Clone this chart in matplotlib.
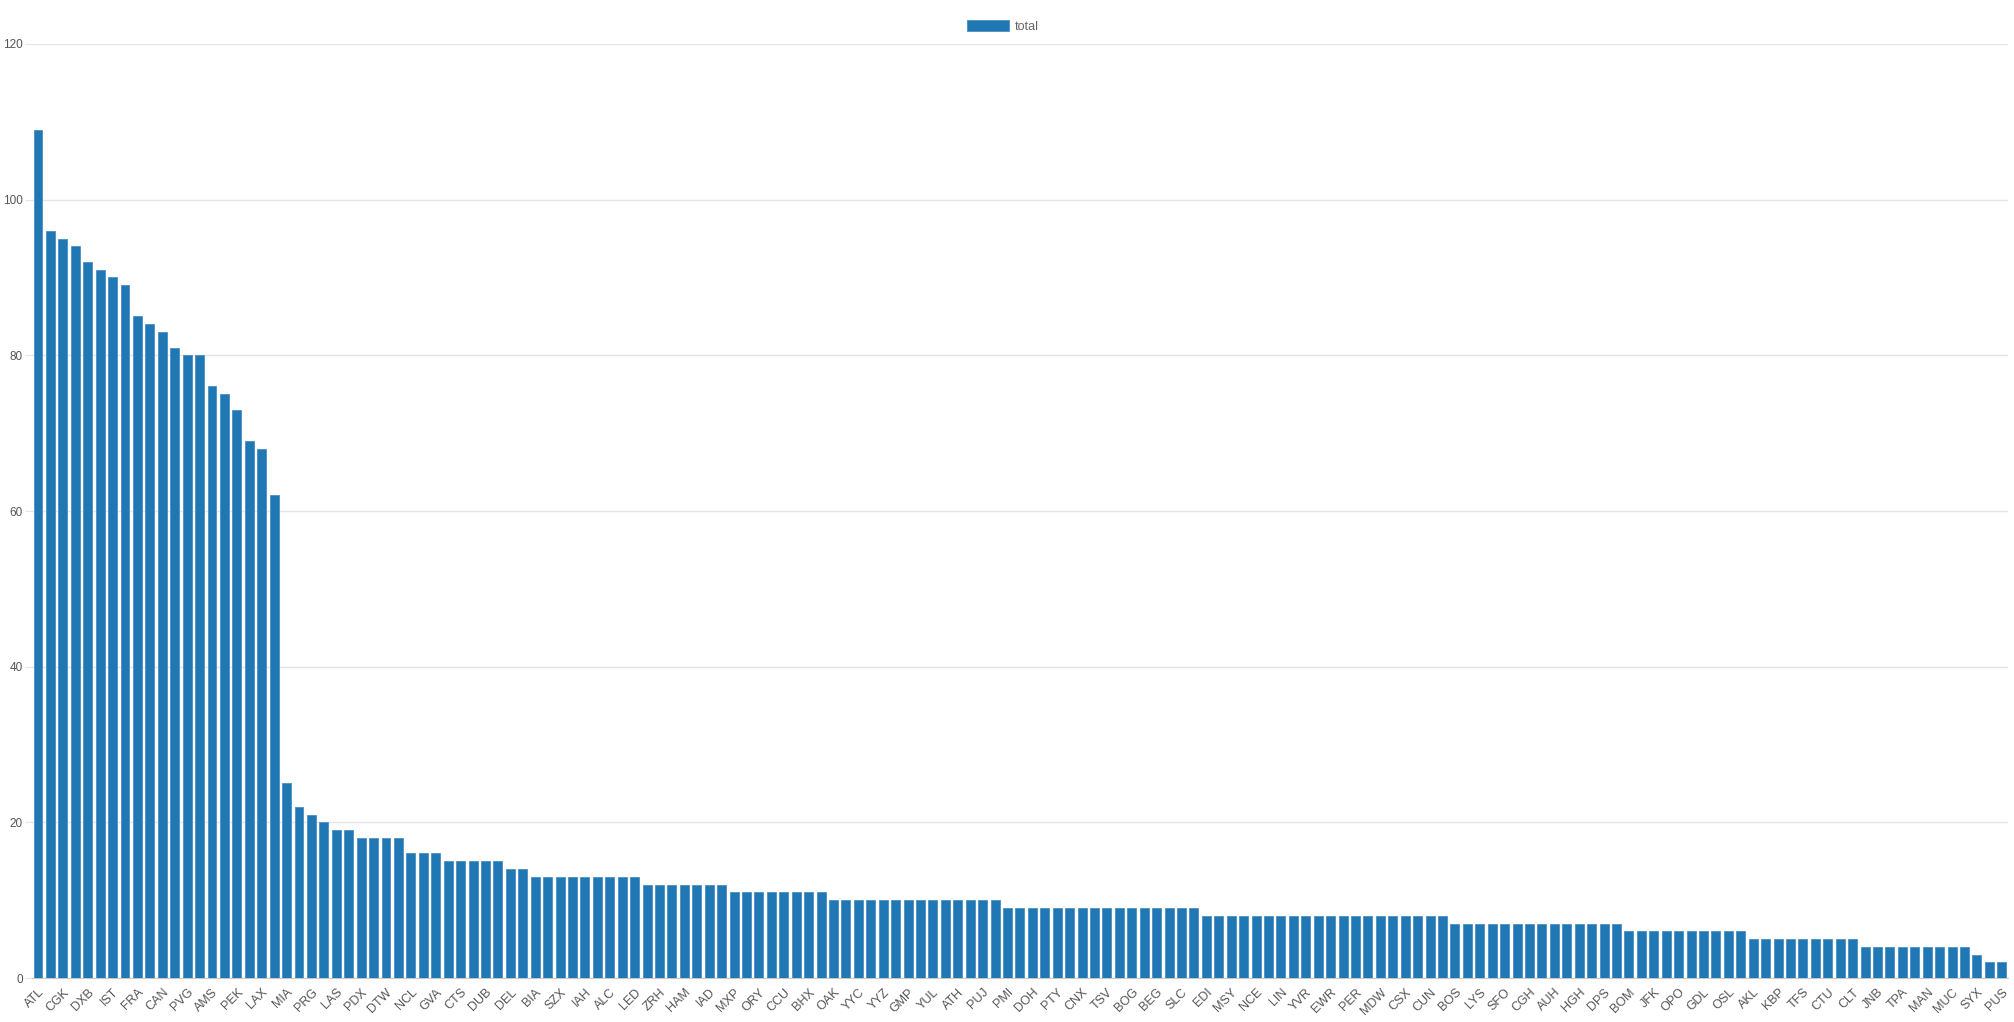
import matplotlib
matplotlib.use("Agg")
import matplotlib.pyplot as plt

# airport codes shown on the x axis (every other bar is labelled)
shown_labels = ["ATL", "CGK", "DXB", "IST", "FRA", "CAN", "PVG", "AMS", "PEK", "LAX",
                "MIA", "PRG", "LAS", "PDX", "DTW", "NCL", "GVA", "CTS", "DUB", "DEL",
                "BIA", "SZX", "IAH", "ALC", "LED", "ZRH", "HAM", "IAD", "MXP", "ORY",
                "CCU", "BHX", "OAK", "YYC", "YYZ", "GMP", "YUL", "ATH", "PUJ", "PMI",
                "DOH", "PTY", "CNX", "TSV", "BOG", "BEG", "SLC", "EDI", "MSY", "NCE",
                "LIN", "YVR", "EWR", "PER", "MDW", "CSX", "CUN", "BOS", "LYS", "SFO",
                "CGH", "AUH", "HGH", "DPS", "BOM", "JFK", "OPO", "GDL", "OSL", "AKL",
                "KBP", "TFS", "CTU", "CLT", "JNB", "TPA", "MAN", "MUC", "SYX", "PUS"]

top_values = [109, 96, 95, 94, 92, 91, 90, 89, 85, 84,
              83, 81, 80, 80, 76, 75, 73, 69, 68, 62]
mid_values = [25, 22, 21, 20, 19, 19, 18, 18, 18, 18,
              16, 16, 16, 15, 15, 15, 15, 15, 14, 14,
              13, 13, 13, 13]
tail_values = ([13] * 5 + [12] * 7 + [11] * 8 + [10] * 14 + [9] * 16 +
               [8] * 20 + [7] * 14 + [6] * 10 + [5] * 9 + [4] * 9 + [3, 2, 2])
totals = top_values + mid_values + tail_values

W, H = 2014, 1022
fig = plt.figure(figsize=(W / 100, H / 100), dpi=100)
ax = fig.add_axes([31.8 / W, 44 / H, (2008 - 31.8) / W, (978 - 44) / H])

x = list(range(len(totals)))
ax.bar(x, totals, width=0.72, color="#1f77b4", edgecolor="#4a90c4", linewidth=0.6,
       label="total", zorder=3)

ax.set_xlim(-0.5, len(totals) - 0.5)
ax.set_ylim(0, 120)
ax.set_yticks(range(0, 121, 20))
ax.grid(axis="y", color="#e5e5e5", linewidth=1, zorder=0)
ax.set_xticks(x[::2])
ax.set_xticklabels(shown_labels, rotation=45, ha="right", rotation_mode="anchor",
                   fontsize=9, color="#555555", family="Liberation Sans")
for t in ax.get_yticklabels():
    t.set_fontsize(8.5)
    t.set_color("#555555")
    t.set_family("Liberation Sans")

ax.tick_params(axis="y", length=5, color="#e5e5e5", pad=1.5)
ax.tick_params(axis="x", length=0, pad=6)
for side in ["top", "right", "left"]:
    ax.spines[side].set_visible(False)
ax.spines["bottom"].set_color("#c8c8c8")

leg = ax.legend(loc="lower center", bbox_to_anchor=(0.4915, 1.0), frameon=False,
                handlelength=3.3, handleheight=1.0, handletextpad=0.5,
                prop={"family": "Liberation Sans", "size": 9})
for txt in leg.get_texts():
    txt.set_color("#666666")

fig.savefig("out.png", dpi=100, facecolor="white")
